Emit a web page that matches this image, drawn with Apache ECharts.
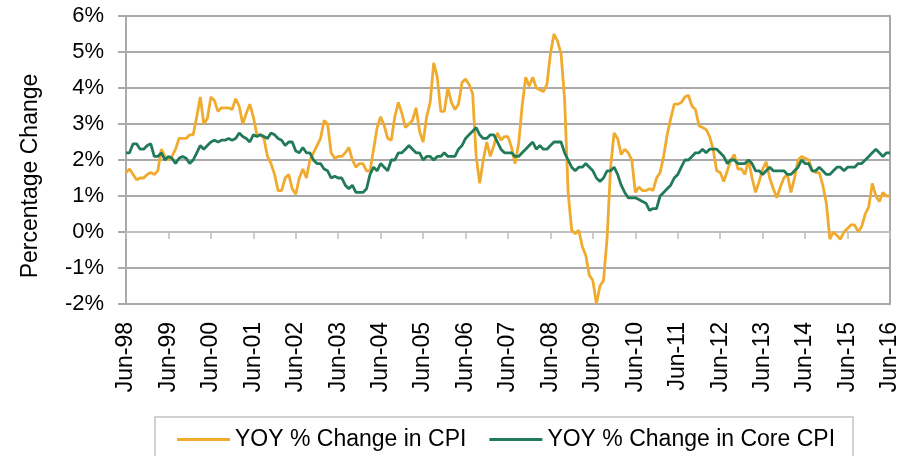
<!DOCTYPE html>
<html>
<head>
<meta charset="utf-8">
<script src="https://cdn.jsdelivr.net/npm/echarts@6/dist/echarts.min.js"></script>
<style>
html,body{margin:0;padding:0;background:#fff;}
#chart{width:910px;height:456px;}
</style>
</head>
<body>
<div id="chart"></div>
<script>
// Monthly, Jun-98 .. Jun-16
const startYear = 1998, startMonth = 5; // June
const monthNames = ['Jan','Feb','Mar','Apr','May','Jun','Jul','Aug','Sep','Oct','Nov','Dec'];

const cpi = [
  1.65,1.75,1.6,1.45,1.5,1.5,1.6,                          // 1998 Jun-Dec
  1.65,1.6,1.7,2.3,2.1,2.0,2.1,2.3,2.6,2.6,2.6,2.7,        // 1999
  2.7,3.2,3.75,3.0,3.15,3.75,3.65,3.35,3.45,3.45,3.45,3.4, // 2000
  3.7,3.5,3.0,3.3,3.55,3.2,2.7,2.7,2.6,2.1,1.9,1.6,        // 2001
  1.15,1.15,1.5,1.6,1.2,1.05,1.5,1.75,1.5,2.0,2.2,2.4,     // 2002
  2.6,3.1,3.0,2.2,2.05,2.1,2.1,2.2,2.35,2.0,1.8,1.9,       // 2003
  1.9,1.7,1.7,2.3,2.9,3.2,2.95,2.6,2.55,3.2,3.6,3.3,       // 2004
  2.9,3.0,3.1,3.45,2.8,2.5,3.2,3.6,4.7,4.3,3.35,3.35,      // 2005
  4.0,3.6,3.4,3.55,4.15,4.25,4.1,3.85,2.1,1.35,2.0,2.5,    // 2006
  2.1,2.4,2.75,2.55,2.65,2.65,2.35,1.9,2.45,3.5,4.3,4.05,  // 2007
  4.3,4.0,3.95,3.9,4.1,4.95,5.5,5.3,4.95,3.7,1.1,0.05,     // 2008
  -0.05,0.05,-0.4,-0.65,-1.2,-1.35,-2.0,-1.5,-1.35,-0.2,1.8,2.75, // 2009
  2.6,2.15,2.3,2.2,2.0,1.1,1.25,1.15,1.15,1.2,1.15,1.5,    // 2010
  1.65,2.1,2.7,3.15,3.55,3.55,3.6,3.75,3.8,3.5,3.4,2.95,   // 2011
  2.9,2.85,2.65,2.3,1.7,1.65,1.4,1.7,2.0,2.15,1.75,1.75,   // 2012
  1.6,2.0,1.5,1.1,1.4,1.75,1.95,1.5,1.2,0.95,1.25,1.5,     // 2013
  1.6,1.1,1.5,2.0,2.1,2.05,2.0,1.7,1.65,1.65,1.3,0.8,      // 2014
  -0.2,0.0,-0.1,-0.2,0.0,0.1,0.2,0.2,0.0,0.15,0.5,0.7,     // 2015
  1.35,1.0,0.85,1.1,1.0,1.0                                // 2016 Jan-Jun
];

const coreCpi = [
  2.2,2.2,2.45,2.45,2.3,2.3,2.4,                           // 1998 Jun-Dec
  2.45,2.1,2.1,2.2,2.0,2.1,2.05,1.9,2.05,2.1,2.05,1.9,     // 1999
  2.0,2.2,2.4,2.3,2.4,2.5,2.55,2.5,2.55,2.55,2.6,2.55,     // 2000
  2.6,2.75,2.65,2.6,2.5,2.7,2.65,2.7,2.65,2.6,2.75,2.7,    // 2001
  2.6,2.55,2.4,2.5,2.5,2.25,2.2,2.35,2.2,2.2,2.0,1.9,      // 2002
  1.9,1.75,1.7,1.5,1.55,1.5,1.5,1.3,1.2,1.3,1.1,1.1,       // 2003
  1.1,1.2,1.6,1.8,1.7,1.9,1.8,1.7,2.0,2.0,2.2,2.2,         // 2004
  2.3,2.4,2.3,2.2,2.2,2.0,2.1,2.1,2.0,2.1,2.1,2.2,         // 2005
  2.1,2.1,2.1,2.3,2.4,2.6,2.7,2.8,2.9,2.7,2.6,2.6,         // 2006
  2.7,2.7,2.5,2.3,2.2,2.2,2.2,2.1,2.1,2.2,2.3,2.4,         // 2007
  2.5,2.3,2.4,2.3,2.3,2.4,2.5,2.5,2.5,2.2,2.0,1.8,         // 2008
  1.7,1.8,1.8,1.9,1.8,1.7,1.5,1.4,1.5,1.7,1.7,1.8,         // 2009
  1.6,1.3,1.1,0.95,0.95,0.95,0.9,0.85,0.8,0.6,0.65,0.65,   // 2010
  1.0,1.1,1.2,1.3,1.5,1.6,1.8,2.0,2.0,2.1,2.2,2.2,         // 2011
  2.3,2.2,2.3,2.3,2.3,2.2,2.1,1.9,2.0,2.0,1.9,1.9,         // 2012
  1.9,2.0,1.9,1.7,1.7,1.6,1.7,1.8,1.7,1.7,1.7,1.7,         // 2013
  1.6,1.6,1.7,1.8,2.0,1.9,1.9,1.7,1.7,1.8,1.7,1.6,         // 2014
  1.6,1.7,1.8,1.8,1.7,1.8,1.8,1.8,1.9,1.9,2.0,2.1,         // 2015
  2.2,2.3,2.2,2.1,2.2,2.2                                  // 2016 Jan-Jun
];

const yTicks = [-2,-1,0,1,2,3,4,5,6];
const seriesNames = ['YOY % Change in CPI', 'YOY % Change in Core CPI'];
const yAxisTitle = 'Percentage Change';

const categories = [];
for (let i = 0; i < cpi.length; i++) {
  const m = (startMonth + i) % 12;
  const y = startYear + Math.floor((startMonth + i) / 12);
  categories.push(monthNames[m] + '-' + String(y % 100).padStart(2, '0'));
}

const FONT = "'Liberation Sans', Arial, Helvetica, sans-serif";
const GRID_GRAY = '#a9a9a9';
const ORANGE = '#F0AB2E', GREEN = '#217A58';
const everyYear = (idx) => idx % 12 === 0;

const chart = echarts.init(document.getElementById('chart'), null, {renderer: 'canvas'});
chart.setOption({
  animation: false,
  backgroundColor: '#ffffff',
  textStyle: {fontFamily: FONT},
  grid: {
    left: 126, right: 20, top: 16, bottom: 152,
    show: true, borderColor: GRID_GRAY, borderWidth: 2
  },
  graphic: [{
    type: 'text',
    x: 31, y: 176,
    rotation: Math.PI / 2,
    style: {
      text: yAxisTitle, fontSize: 23, fontFamily: FONT, fill: '#000',
      align: 'center', verticalAlign: 'middle'
    }
  }],
  xAxis: [
    {
      type: 'category',
      data: categories,
      boundaryGap: false,
      position: 'bottom',
      axisLine: {onZero: true, lineStyle: {color: '#c9c9c9', width: 1.5}},
      axisTick: {show: true, interval: (i) => everyYear(i), length: 7, lineStyle: {color: '#bdbdbd', width: 1.5}},
      axisLabel: {show: false},
      splitLine: {show: false}
    },
    {
      type: 'category',
      data: categories,
      boundaryGap: false,
      position: 'bottom',
      axisLine: {show: false, onZero: false},
      axisTick: {show: false},
      axisLabel: {
        show: true, interval: (i) => everyYear(i), rotate: 90, margin: 18,
        fontSize: 23, color: '#000', fontFamily: FONT
      },
      splitLine: {show: false}
    }
  ],
  yAxis: {
    type: 'value',
    min: yTicks[0], max: yTicks[yTicks.length - 1], interval: 1,
    axisLine: {show: true, lineStyle: {color: GRID_GRAY, width: 2}},
    axisTick: {show: true, length: 8, lineStyle: {color: GRID_GRAY, width: 2}},
    axisLabel: {formatter: '{value}%', fontSize: 22, color: '#000', margin: 22, fontFamily: FONT},
    splitLine: {show: true, lineStyle: {color: GRID_GRAY, width: 2}}
  },
  legend: {
    data: seriesNames.map((n) => ({name: n, icon: 'rect'})),
    left: 155, top: 417,
    orient: 'horizontal',
    itemWidth: 53, itemHeight: 3, itemGap: 23,
    padding: [11, 18, 40, 22],
    borderColor: '#c4c4c4', borderWidth: 1.5,
    textStyle: {fontSize: 23, color: '#000', fontFamily: FONT}
  },
  series: [
    {
      name: seriesNames[0], type: 'line', data: cpi, xAxisIndex: 0,
      symbol: 'none', smooth: false,
      lineStyle: {color: ORANGE, width: 2.8},
      itemStyle: {color: ORANGE},
      z: 3
    },
    {
      name: seriesNames[1], type: 'line', data: coreCpi, xAxisIndex: 0,
      symbol: 'none', smooth: false,
      lineStyle: {color: GREEN, width: 2.8},
      itemStyle: {color: GREEN},
      z: 4
    }
  ]
});
</script>
</body>
</html>
